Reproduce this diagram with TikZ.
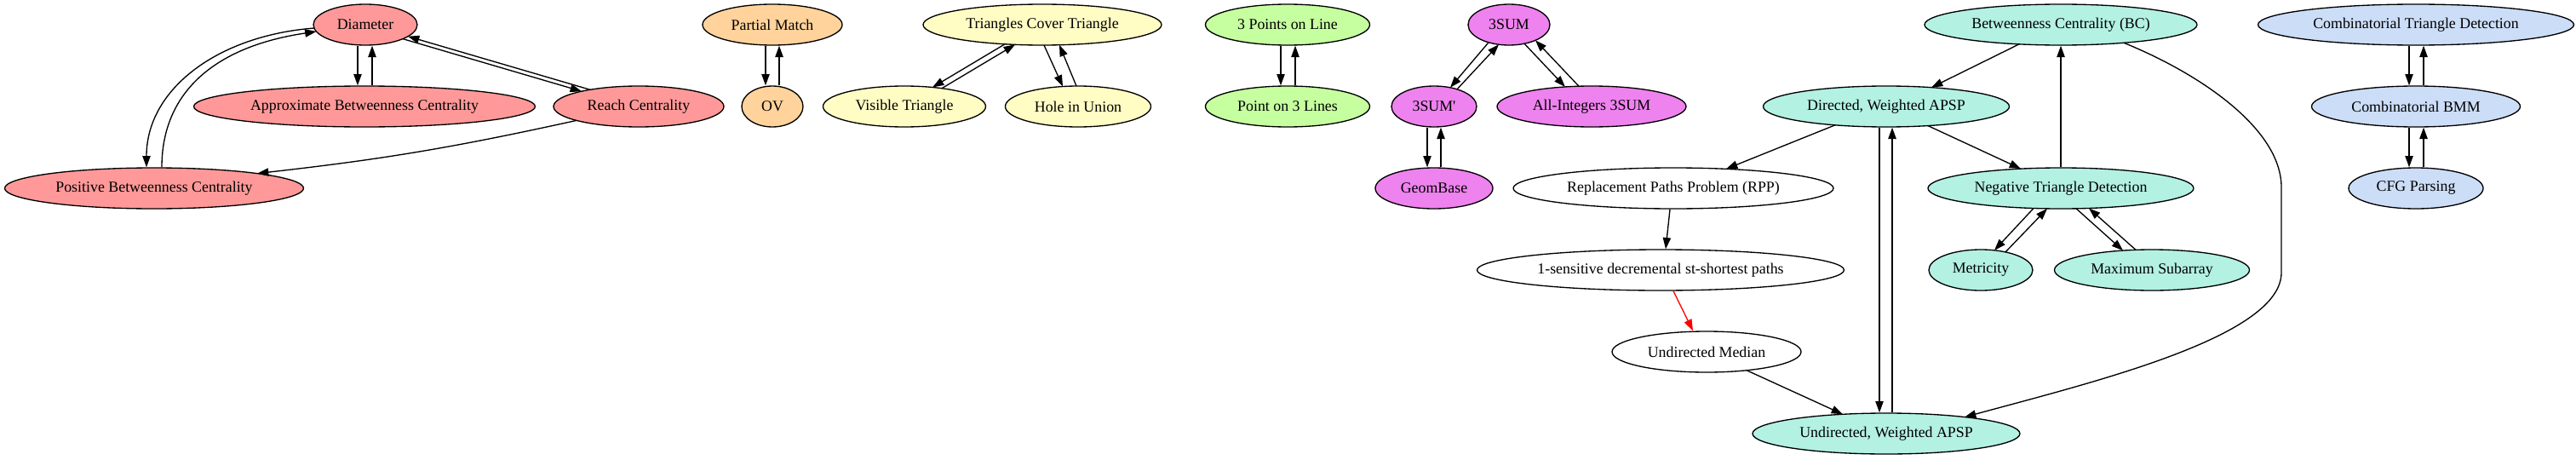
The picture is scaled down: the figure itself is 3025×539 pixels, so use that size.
\documentclass[tikz,border=0pt]{standalone}
\usepackage{fontspec}
\setmainfont{Liberation Serif}
\usetikzlibrary{calc,arrows.meta,shapes.geometric}
\definecolor{cred}{HTML}{FF9999}
\definecolor{corange}{HTML}{FFD39B}
\definecolor{cyellow}{HTML}{FFFCC4}
\definecolor{cgreen}{HTML}{C6FFA0}
\definecolor{cviolet}{HTML}{EE82EE}
\definecolor{cteal}{HTML}{B3F1E3}
\definecolor{cblue}{HTML}{CCDDF7}
\begin{document}
\begin{tikzpicture}[x=0.75pt,y=-0.75pt,
  gv/.style={ellipse, draw=black, line width=1pt, inner sep=0pt, minimum height=36pt,
    font=\fontsize{13.4}{16}\selectfont},
  edge/.style={line width=1pt, -{Triangle[length=10pt,width=7pt]}},
]
\useasboundingbox (0,0) rectangle (3025,539);
% red group
\node[gv, fill=cred, minimum width=91.5pt]   (Dia)   at (429,29)  {Diameter};
\node[gv, fill=cred, minimum width=300.75pt] (ABC)   at (428,125) {Approximate Betweenness Centrality};
\node[gv, fill=cred, minimum width=150pt]    (Reach) at (750,125) {Reach Centrality};
\node[gv, fill=cred, minimum width=263.25pt] (PBC)   at (181,221) {Positive Betweenness Centrality};
% orange
\node[gv, fill=corange, minimum width=123pt] (PM) at (907,29)  {Partial Match};
\node[gv, fill=corange, minimum width=54pt]  (OV) at (907,125) {OV};
% yellow
\node[gv, fill=cyellow, minimum width=210pt]    (TCT) at (1224,29)  {Triangles Cover Triangle};
\node[gv, fill=cyellow, minimum width=143.25pt] (VT)  at (1062,125) {Visible Triangle};
\node[gv, fill=cyellow, minimum width=128.25pt] (HiU) at (1266,125) {Hole in Union};
% green
\node[gv, fill=cgreen, minimum width=144.75pt] (PL3) at (1512,29)  {3 Points on Line};
\node[gv, fill=cgreen, minimum width=144.75pt] (P3L) at (1512,125) {Point on 3 Lines};
% violet
\node[gv, fill=cviolet, minimum width=72pt]    (S3)  at (1772,29)  {3SUM};
\node[gv, fill=cviolet, minimum width=75pt]    (S3p) at (1684,125) {3SUM\XeTeXglyph\XeTeXcharglyph"0027\relax};
\node[gv, fill=cviolet, minimum width=166.5pt] (AI)  at (1869,125) {All-Integers 3SUM};
\node[gv, fill=cviolet, minimum width=103.5pt] (GB)  at (1684,221) {GeomBase};
% teal / white
\node[gv, fill=cteal, minimum width=240pt]    (BC)  at (2420,29)  {Betweenness Centrality (BC)};
\node[gv, fill=cteal, minimum width=216.75pt] (DW)  at (2215,125) {Directed, Weighted APSP};
\node[gv, fill=white, minimum width=282pt]    (RPP) at (1965,221) {Replacement Paths Problem (RPP)};
\node[gv, fill=cteal, minimum width=234pt]    (NTD) at (2420,221) {Negative Triangle Detection};
\node[gv, fill=white, minimum width=323.25pt] (ONE) at (1950,317) {1-sensitive decremental st-shortest paths};
\node[gv, fill=cteal, minimum width=91.5pt]   (Met) at (2326,317) {Metricity};
\node[gv, fill=cteal, minimum width=171.75pt] (MS)  at (2527,317) {Maximum Subarray};
\node[gv, fill=white, minimum width=166.5pt]  (UM)  at (2004,413) {Undirected Median};
\node[gv, fill=cteal, minimum width=235.5pt]  (UW)  at (2215,509) {Undirected, Weighted APSP};
% blue
\node[gv, fill=cblue, minimum width=278.25pt] (CTD)  at (2837,29)  {Combinatorial Triangle Detection};
\node[gv, fill=cblue, minimum width=183.75pt] (CBMM) at (2837,125) {Combinatorial BMM};
\node[gv, fill=cblue, minimum width=118.5pt]  (CFG)  at (2837,221) {CFG Parsing};

% red group edges
\draw[edge] ($(Dia.south)+(-9,0)$) -- ($(ABC.north)+(-8,0)$);
\draw[edge] ($(ABC.north)+(9,0)$) -- ($(Dia.south)+(8,0)$);
\draw[edge] ($(Dia.center)+(-60.2,4)$) .. controls (255,42) and (172,105) .. ($(PBC.north)+(-9,0)$);
\draw[edge] ($(PBC.north)+(9,0)$) .. controls (190,110) and (250,55) .. ($(Dia.center)+(-57.5,8)$);
\draw[edge] ($(Dia.center)+(44,16.6)$) -- ($(Reach.center)+(-67,-17.8)$);
\draw[edge] ($(Reach.center)+(-57,-19.7)$) -- ($(Dia.center)+(50,13.7)$);
\draw[edge] ($(Reach.center)+(-73,16.4)$) to[bend left=3] ($(PBC.center)+(121,-17.4)$);
% orange
\draw[edge] ($(PM.south)+(-8,0)$) -- ($(OV.north)+(-8,0)$);
\draw[edge] ($(OV.north)+(8,0)$) -- ($(PM.south)+(8,0)$);
% yellow
\draw[edge] ($(TCT.center)+(-44,22.8)$) -- ($(VT.center)+(33,-22.5)$);
\draw[edge] ($(VT.center)+(44,-21.3)$) -- ($(TCT.center)+(-32,23.4)$);
\draw[edge] ($(TCT.center)+(2,24)$) -- ($(HiU.center)+(-18,-23.5)$);
\draw[edge] ($(HiU.center)+(-2,-24)$) -- ($(TCT.center)+(20,23.75)$);
% green
\draw[edge] ($(PL3.south)+(-8,0)$) -- ($(P3L.north)+(-8,0)$);
\draw[edge] ($(P3L.north)+(9,0)$) -- ($(PL3.south)+(9,0)$);
% violet
\draw[edge] ($(S3.center)+(-24,20.8)$) -- ($(S3p.center)+(19,-22.2)$);
\draw[edge] ($(S3p.center)+(27,-20.2)$) -- ($(S3.center)+(-12,23.2)$);
\draw[edge] ($(S3.center)+(18,22.2)$) -- ($(AI.center)+(-31,-23)$);
\draw[edge] ($(AI.center)+(-15,-23.8)$) -- ($(S3.center)+(31,18.3)$);
\draw[edge] ($(S3p.south)+(-8,0)$) -- ($(GB.north)+(-8,0)$);
\draw[edge] ($(GB.north)+(8,0)$) -- ($(S3p.south)+(8,0)$);
% teal
\draw[edge] ($(BC.center)+(-49,22.85)$) -- ($(DW.center)+(53,-22.3)$);
\draw[edge] ($(BC.center)+(74,21.3)$) .. controls (2580,85) and (2679,150) .. (2679,220)
   -- (2679,320) .. controls (2679,395) and (2460,448) .. ($(UW.center)+(92,-19.4)$);
\draw[edge] ($(DW.center)+(-60,21.8)$) -- ($(RPP.center)+(62,-22.7)$);
\draw[edge] ($(DW.center)+(49,22.6)$) -- ($(NTD.center)+(-47,-22.9)$);
\draw[edge] (NTD.north) -- (BC.south);
\draw[edge] ($(DW.south)+(-8,0)$) -- ($(UW.north)+(-8,0)$);
\draw[edge] ($(UW.north)+(7,0)$) -- ($(DW.south)+(7,0)$);
\draw[edge] ($(RPP.south)+(-4,0)$) -- ($(ONE.north)+(6,0)$);
\draw[edge, red] ($(ONE.south)+(15,0)$) -- ($(UM.north)+(-16,0)$);
\draw[edge] ($(UM.center)+(47,21.7)$) -- ($(UW.center)+(-51,-22.7)$);
\draw[edge] ($(NTD.center)+(-32,23.5)$) -- ($(Met.center)+(16,-23.2)$);
\draw[edge] ($(Met.center)+(29,-21.1)$) -- ($(NTD.center)+(-16,23.9)$);
\draw[edge] ($(NTD.center)+(18,23.8)$) -- ($(MS.center)+(-34,-22.9)$);
\draw[edge] ($(MS.center)+(-19,-23.7)$) -- ($(NTD.center)+(33,23.5)$);
% blue
\draw[edge] ($(CTD.south)+(-8,0)$) -- ($(CBMM.north)+(-8,0)$);
\draw[edge] ($(CBMM.north)+(9,0)$) -- ($(CTD.south)+(9,0)$);
\draw[edge] ($(CBMM.south)+(-8,0)$) -- ($(CFG.north)+(-8,0)$);
\draw[edge] ($(CFG.north)+(9,0)$) -- ($(CBMM.south)+(9,0)$);
\end{tikzpicture}
\end{document}
